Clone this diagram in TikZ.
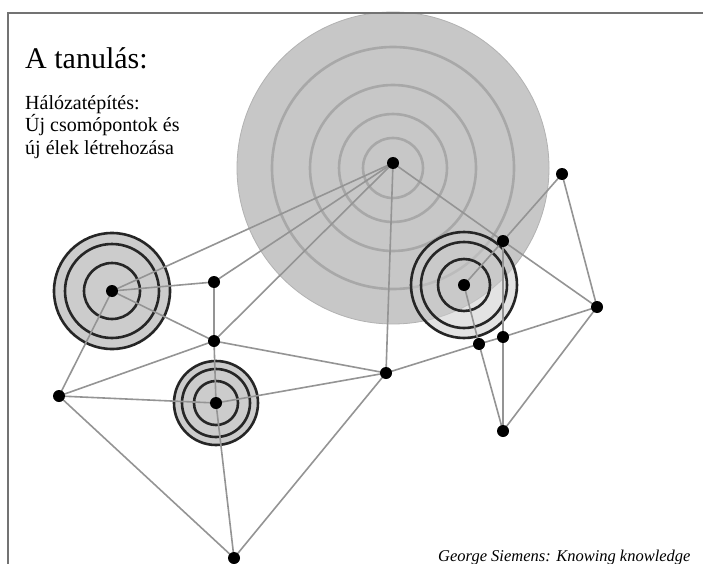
\documentclass[tikz,border=0pt]{standalone}
\usepackage{fontspec}
\setmainfont{Liberation Serif}
\pgfdeclarelayer{bg}
\pgfdeclarelayer{edges}
\pgfsetlayers{bg,edges,main}
\definecolor{edgecol}{gray}{0.58}
\definecolor{bigfill}{gray}{0.78}
\definecolor{bigring}{gray}{0.66}
\definecolor{tfill}{gray}{0.80}
\definecolor{framecol}{gray}{0.45}
\tikzset{
  dot/.style={circle,fill=black,inner sep=0pt,minimum size=12pt},
  edge/.style={draw=edgecol,line width=1.6pt},
  ring/.style={draw=black!85,line width=2.6pt},
  bring/.style={draw=bigring,line width=2.6pt},
  frameline/.style={draw=framecol,line width=1.6pt}
}
\begin{document}
\begin{tikzpicture}[x=1pt,y=-1pt]
\useasboundingbox (0,0) rectangle (703,564);
% frame
\coordinate (f1) at (8,564);
\coordinate (f2) at (8,13);
\coordinate (f3) at (703,13);
\draw[frameline] (f1) -- (f2) -- (f3);

% nodes
\node[dot] (C) at (393,163) {};
\node[dot] (L) at (112,291) {};
\node[dot] (A) at (214,282) {};
\node[dot] (B) at (214,341) {};
\node[dot] (D) at (59,396) {};
\node[dot] (E) at (216,403) {};
\node[dot] (F) at (386,373) {};
\node[dot] (G) at (234,558) {};
\node[dot] (H) at (464,285) {};
\node[dot] (I) at (503,241) {};
\node[dot] (J) at (562,174) {};
\node[dot] (K) at (597,307) {};
\node[dot] (M) at (503,337) {};
\node[dot] (N) at (479,344) {};
\node[dot] (P) at (503,431) {};
\coordinate (bigc) at (393,168);

\begin{pgfonlayer}{bg}
  \fill[white] (0,0) rectangle (703,564);
  % big circle
  \fill[bigfill] (bigc) circle[radius=156];
  \draw[gray!60,line width=0.8pt] (bigc) circle[radius=156];
  \foreach \r in {30,54,83,121} \draw[bring] (bigc) circle[radius=\r];
  % left target
  \fill[tfill] (L) circle[radius=58];
  \foreach \r in {58,47,28} \draw[ring] (L) circle[radius=\r];
  % lower target
  \fill[tfill] (E) circle[radius=42];
  \foreach \r in {42,34,22} \draw[ring] (E) circle[radius=\r];
  % right target
  \fill[tfill,opacity=0.55] (H) circle[radius=53];
  \foreach \r in {53,43,26} \draw[ring] (H) circle[radius=\r];
\end{pgfonlayer}

\begin{pgfonlayer}{edges}
  \foreach \a/\b in {C/L,C/A,C/B,C/F,C/I,I/K,I/J,J/K,H/I,I/M,M/P,K/M,M/N,N/F,K/P,N/P,H/N,
                     L/A,L/B,L/D,A/B,B/E,D/B,D/E,D/G,E/G,G/F,E/F,B/F}
    \draw[edge] (\a.center) -- (\b.center);
\end{pgfonlayer}

% texts
\node[anchor=base west,inner sep=0pt,font=\fontsize{30}{34}\selectfont] (title) at (25,69) {A tanulás:};
\node[anchor=base west,inner sep=0pt,align=left,font=\fontsize{20}{22}\selectfont] (sub) at (25,154) {Hálózatépítés:\\Új csomópontok és\\új élek létrehozása};
\node[anchor=base west,inner sep=0pt,font=\fontsize{16.5}{18}\selectfont\itshape] (cap) at (438,561) {George Siemens: Knowing knowledge};
\end{tikzpicture}
\end{document}
